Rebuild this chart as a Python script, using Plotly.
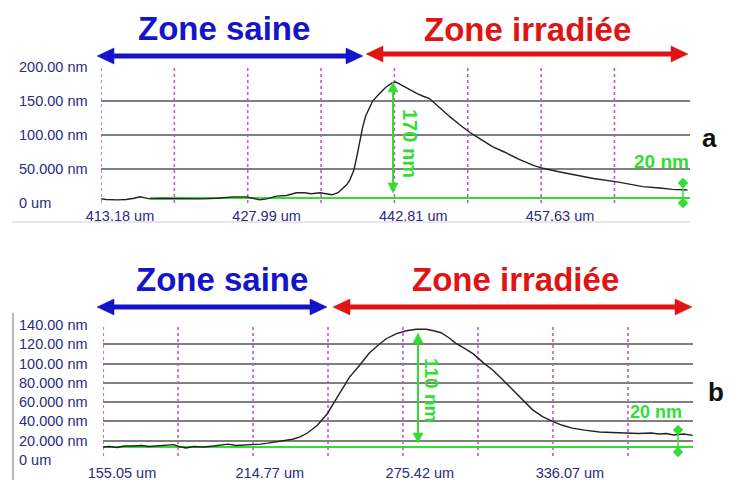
import plotly.graph_objects as go

# ---------------- data ----------------
# panel a : profile (um, nm)
x_a = [411.26, 411.8, 412.9, 413.8, 414.6, 415.2, 415.7, 416.2, 417.5, 419.0, 420.3, 421.5, 423.0,
       424.6, 426.0, 426.7, 427.3, 428.0, 429.0, 430.0, 431.0, 431.8, 432.5, 433.4, 434.0, 434.6,
       435.2, 435.7, 436.1, 436.4, 436.8, 437.1, 437.4, 437.7, 438.0, 438.3, 438.7, 439.4, 440.0,
       440.7, 441.0, 441.3, 441.8, 442.5, 443.2, 443.8, 444.4, 444.8, 445.6, 446.5, 447.5, 448.5,
       449.6, 450.8, 452.0, 453.5, 455.0, 455.9, 457.5, 459.3, 461.0, 463.4, 465.0, 466.0, 467.7,
       469.0, 470.5]
y_a = [6, 5, 4.5, 5, 7, 9, 7.5, 6, 6.5, 6, 6.5, 6, 7,
       9, 9, 6, 4.5, 6, 10, 11, 15, 15, 13.5, 15, 14, 12,
       15, 21, 27, 34, 48, 68, 90, 112, 128, 138, 150, 161, 170,
       177, 178, 176, 172, 166, 161, 157, 154, 149, 138, 127, 115, 104,
       94, 83, 75, 64, 55, 51, 46, 41, 36, 31, 27, 24, 22,
       20, 19]

# panel b : profile (um, nm)
x_b = [147.4, 150, 153, 156, 159.5, 163, 166, 170, 173, 176, 178, 181, 184, 188, 192, 196, 198,
       201, 205, 208, 211, 214, 217, 220, 224, 227, 230, 234, 238, 242, 247, 251, 255, 259, 262,
       266, 270, 274, 278, 281, 284, 287, 290, 294, 297, 301, 305, 309, 313, 317, 321, 325, 329,
       333, 337, 342, 348, 353, 359, 364, 369, 372, 375, 378, 382, 385.7]
y_b = [13.5, 14, 13, 14.5, 14.5, 15, 14, 15, 15.5, 16, 14, 12.5, 14, 13.5, 14.5, 15.5, 16.5,
       15, 15.5, 15.5, 16.5, 17.5, 18.5, 19.7, 21.5, 24, 28, 36, 48, 65, 86, 98, 111, 120, 126,
       131, 134, 135.5, 135.5, 134, 132, 127, 121, 115, 110, 101, 93, 83, 72.5, 62, 52, 45, 40,
       36, 33, 31, 29, 28.5, 28, 27.5, 28, 27, 27.5, 26, 27, 25.5]

# axes / ticks
xtick_a = [413.18, 427.99, 442.81, 457.63]
xtick_a_text = ["413.18 um", "427.99 um", "442.81 um", "457.63 um"]
ytick_a = [0, 50, 100, 150, 200]
ytick_a_text = ["0 um", "50.000 nm", "100.00 nm", "150.00 nm", "200.00 nm"]
vgrid_a = [411.26, 418.67, 426.08, 433.49, 440.90, 448.31, 455.72, 463.13]

xtick_b = [155.05, 214.77, 275.42, 336.07]
xtick_b_text = ["155.05 um", "214.77 um", "275.42 um", "336.07 um"]
ytick_b = [0, 20, 40, 60, 80, 100, 120, 140]
ytick_b_text = ["0 um", "20.000 nm", "40.000 nm", "60.000 nm", "80.000 nm",
                "100.00 nm", "120.00 nm", "140.00 nm"]
vgrid_b = [147.4, 177.7, 208.0, 238.3, 268.6, 298.9, 329.2, 359.5]

baseline_a = 7.4    # nm, green reference line
baseline_b = 13.5

# ---------------- style ----------------
W, H = 730, 480
NAVY = "#2b2b80"
GREEN = "#33dd33"
MAG = "#cc55cc"
GRID = "#808080"
BLUE = "#1414c8"
RED = "#e01414"
FONT = "Liberation Sans, Arial, sans-serif"


def px(x):
    return x / W


def py(y):
    return 1 - y / H


fig = go.Figure()
fig.add_trace(go.Scatter(x=x_a, y=y_a, mode="lines", line=dict(color="#222222", width=1.4),
                         xaxis="x", yaxis="y", showlegend=False, hoverinfo="skip"))
fig.add_trace(go.Scatter(x=x_b, y=y_b, mode="lines", line=dict(color="#222222", width=1.4),
                         xaxis="x2", yaxis="y2", showlegend=False, hoverinfo="skip"))

shapes = []
annotations = []

# dotted vertical grid lines
for v in vgrid_a:
    shapes.append(dict(type="line", xref="x", yref="paper", x0=v, x1=v, y0=py(203), y1=py(67),
                       line=dict(color=MAG, width=1.6, dash="dot"), layer="below"))
for v in vgrid_b:
    shapes.append(dict(type="line", xref="x2", yref="paper", x0=v, x1=v, y0=py(456), y1=py(325),
                       line=dict(color=MAG, width=1.6, dash="dot"), layer="below"))

# green baselines
shapes.append(dict(type="line", xref="x", yref="y", x0=416.2, x1=470.76, y0=baseline_a, y1=baseline_a,
                   line=dict(color=GREEN, width=2), layer="below"))
shapes.append(dict(type="line", xref="x2", yref="y2", x0=147.37, x1=385.8, y0=baseline_b, y1=baseline_b,
                   line=dict(color=GREEN, width=2), layer="below"))

# y tick labels (left aligned)
for v, t in zip(ytick_a, ytick_a_text):
    annotations.append(dict(xref="paper", yref="y", x=px(17), y=v, text=t, showarrow=False,
                            xanchor="left", yanchor="middle",
                            font=dict(family=FONT, size=14.5, color=NAVY)))
for v, t in zip(ytick_b, ytick_b_text):
    annotations.append(dict(xref="paper", yref="y2", x=px(17), y=v, text=t, showarrow=False,
                            xanchor="left", yanchor="middle",
                            font=dict(family=FONT, size=14.5, color=NAVY)))


def harrow(x0, x1, y, color, lw=5, hl=17, hw=8):
    shapes.append(dict(type="line", xref="paper", yref="paper", x0=px(x0 + hl - 2), x1=px(x1 - hl + 2),
                       y0=py(y), y1=py(y), line=dict(color=color, width=lw)))
    for tip, base in ((x0, x0 + hl), (x1, x1 - hl)):
        path = "M{},{} L{},{} L{},{} Z".format(px(tip), py(y), px(base), py(y - hw), px(base), py(y + hw))
        shapes.append(dict(type="path", xref="paper", yref="paper", path=path,
                           fillcolor=color, line=dict(color=color, width=0.5)))


def varrow(x, y0, y1, color, lw=2, hl=10, hw=5):
    shapes.append(dict(type="line", xref="paper", yref="paper", x0=px(x), x1=px(x),
                       y0=py(y0 + hl - 1), y1=py(y1 - hl + 1), line=dict(color=color, width=lw)))
    for tip, base in ((y0, y0 + hl), (y1, y1 - hl)):
        path = "M{},{} L{},{} L{},{} Z".format(px(x), py(tip), px(x - hw), py(base), px(x + hw), py(base))
        shapes.append(dict(type="path", xref="paper", yref="paper", path=path,
                           fillcolor=color, line=dict(color=color, width=0.5)))


def diamond_pair(x, y0, y1, color, r=5):
    shapes.append(dict(type="line", xref="paper", yref="paper", x0=px(x), x1=px(x),
                       y0=py(y0), y1=py(y1), line=dict(color=color, width=1.5)))
    for y in (y0, y1):
        path = "M{},{} L{},{} L{},{} L{},{} Z".format(px(x), py(y - r), px(x + r), py(y),
                                                     px(x), py(y + r), px(x - r), py(y))
        shapes.append(dict(type="path", xref="paper", yref="paper", path=path,
                           fillcolor=color, line=dict(color=color, width=0.5)))


# zone arrows
harrow(97, 363, 56, BLUE)
harrow(366, 688, 54, RED)
harrow(97, 327, 307, BLUE)
harrow(333, 692, 307, RED)

# measurement arrows
varrow(393, 82, 193, GREEN)
varrow(418, 333, 443, GREEN)
diamond_pair(683, 183, 203, GREEN)
diamond_pair(678, 430, 452, GREEN)

# frame lines
shapes.append(dict(type="line", xref="paper", yref="paper", x0=px(12), x1=px(690), y0=py(222), y1=py(222),
                   line=dict(color="#cfcfcf", width=1.2)))
shapes.append(dict(type="line", xref="paper", yref="paper", x0=px(13), x1=px(13), y0=py(313), y1=py(480),
                   line=dict(color="#a0a0a0", width=1.5)))


def text(x, y, t, size, color, bold=True, angle=0):
    annotations.append(dict(xref="paper", yref="paper", x=px(x), y=py(y),
                            text=("<b>%s</b>" % t) if bold else t, showarrow=False,
                            xanchor="center", yanchor="middle", textangle=angle,
                            font=dict(family=FONT, size=size, color=color)))


text(224, 28, "Zone saine", 33, BLUE)
text(527, 29, "Zone irradiée", 33, RED)
text(222, 279, "Zone saine", 33, BLUE)
text(515, 279, "Zone irradiée", 33, RED)
text(410, 143, "170 nm", 20, GREEN, angle=90)
text(432, 390, "110 nm", 19, GREEN, angle=90)
text(661, 161, "20 nm", 19, GREEN)
text(656, 412, "20 nm", 18, GREEN)
text(709, 138, "a", 26, "#111111")
text(716, 392, "b", 26, "#111111")

tickfont = dict(family=FONT, size=14.5, color=NAVY)
fig.update_layout(
    width=W, height=H, margin=dict(l=0, r=0, t=0, b=0, pad=0, autoexpand=False),
    paper_bgcolor="white", plot_bgcolor="white", showlegend=False,
    font=dict(family=FONT),
    shapes=shapes, annotations=annotations,
    xaxis=dict(domain=[px(101), px(690)], range=[411.26, 470.76], anchor="y", automargin=False,
               tickvals=xtick_a, ticktext=xtick_a_text, tickfont=tickfont, ticklabelstandoff=2,
               showgrid=False, zeroline=False, showline=False, ticks=""),
    yaxis=dict(domain=[py(203.5), py(66.5)], range=[-0.8, 200.8], anchor="x", automargin=False,
               tickvals=ytick_a, showticklabels=False, showgrid=True,
               gridcolor=GRID, gridwidth=1.6, zeroline=False, showline=False),
    xaxis2=dict(domain=[px(103), px(693)], range=[147.37, 385.8], anchor="y2", automargin=False,
                tickvals=xtick_b, ticktext=xtick_b_text, tickfont=tickfont, ticklabelstandoff=2,
                showgrid=False, zeroline=False, showline=False, ticks=""),
    yaxis2=dict(domain=[py(460.5), py(324.5)], range=[-0.5, 140.5], anchor="x2", automargin=False,
                tickvals=ytick_b, showticklabels=False, showgrid=True,
                gridcolor=GRID, gridwidth=1.6, zeroline=False, showline=False),
)

fig.write_html("out.html", config={"displayModeBar": False},
               post_script="document.body.style.margin='0';")
